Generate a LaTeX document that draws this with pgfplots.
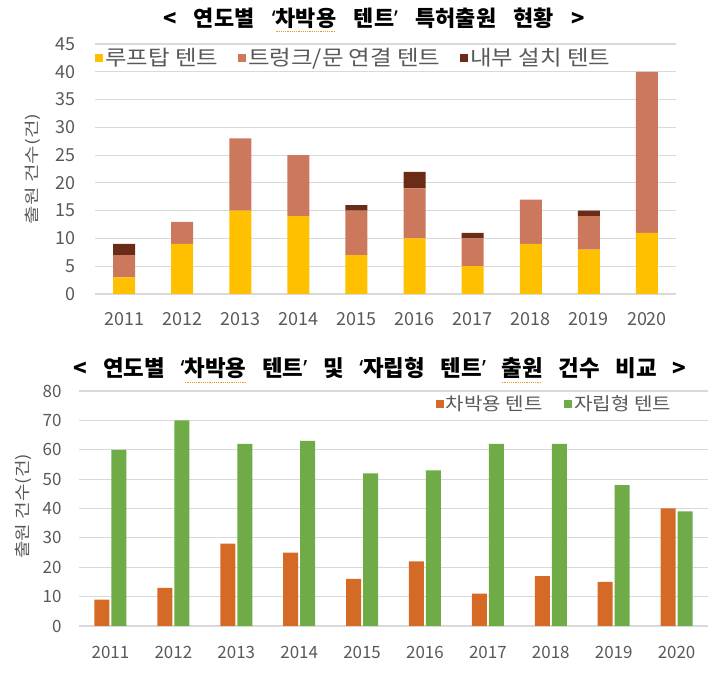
\documentclass[border=0pt]{standalone}
\usepackage{fontspec}
\setmainfont{Noto Sans CJK KR}
\newfontfamily\wideko[FakeStretch=1.12]{Noto Sans CJK KR}
\newfontfamily\qfont{Noto Sans}
\newcommand\oq{{\qfont ‘}}
\newcommand\cq{{\qfont ’}}
\usepackage{pgfplots}
\pgfplotsset{compat=1.18}
\definecolor{roof}{HTML}{FFC000}
\definecolor{trunk}{HTML}{CC785C}
\definecolor{inner}{HTML}{6A2C17}
\definecolor{carorg}{HTML}{D46A26}
\definecolor{freegreen}{HTML}{6FAB46}
\definecolor{gridgray}{HTML}{D9D9D9}
\definecolor{textgray}{HTML}{595959}
\definecolor{squig}{HTML}{E8992E}
\newcommand\squig[1]{\setbox0\hbox{#1}\rlap{\textcolor{squig}{\hbox to \wd0{\leaders\hbox to 2.2bp{\hss\rule[-6bp]{1.2bp}{1bp}\hss}\hfill}}}\box0\relax}
\pgfplotstableread{
x roof trunk inner
0 3 4 2
1 9 4 0
2 15 13 0
3 14 11 0
4 7 8 1
5 10 9 3
6 5 5 1
7 9 8 0
8 8 6 1
9 11 29 0
}\toptable
\pgfplotstableread{
x car free
0 9 60
1 13 70
2 28 62
3 25 63
4 16 52
5 22 53
6 11 62
7 17 62
8 15 48
9 40 39
}\bottable
\begin{document}
\begin{tikzpicture}
\useasboundingbox (0,0) rectangle (721bp,677bp);
\node[font=\fontsize{22}{26}\selectfont\bfseries] at (374bp,657bp) {\spaceskip=0.8em < 연도별 \oq\squig{차박용} 텐트\cq{} 특허출원 현황 >};
\node[font=\fontsize{22.5}{26}\selectfont\bfseries] at (380bp,307bp) {\spaceskip=0.7em < 연도별 \oq\squig{차박용} 텐트\cq{} 및 \oq 자립형 텐트\cq{} \squig{출원} 건수 비교 >};
\begin{axis}[
  at={(95bp,383bp)}, anchor=south west, scale only axis,
  width=581bp, height=250bp,
  xmin=-0.5, xmax=9.5, ymin=0, ymax=45,
  ybar stacked, bar width=22bp,
  xtick={0,...,9}, xticklabels={2011,2012,2013,2014,2015,2016,2017,2018,2019,2020},
  ytick={0,5,...,45},
  ymajorgrids, grid style={draw=gridgray, line width=1.2bp},
  axis line style={draw=none}, major tick length=0pt,
  /pgf/number format/assume math mode=true,
  tick label style={font=\fontsize{18}{20}\selectfont, text=textgray},
  xticklabel style={anchor=base, yshift=-32bp},
  yticklabel style={anchor=east, xshift=-16bp},
  ylabel={\scalebox{1.35}[1]{출원 건수(건)}},
  ylabel style={at={(axis description cs:-0.108,0.5)}, anchor=center, rotate=0, font=\fontsize{15}{18}\selectfont, text=textgray},
  legend style={at={(rel axis cs:-0.005,0.944)}, anchor=west, draw=none, fill=none,
     legend columns=3, font=\fontsize{21}{24}\selectfont\wideko, text=textgray,
     /tikz/every even column/.append style={column sep=18bp}},
  legend image code/.code={\fill[#1] (0bp,-4bp) rectangle (8bp,4bp);},
]
\addplot[fill=roof, draw=none] table[x=x, y=roof] {\toptable};
\addplot[fill=trunk, draw=none] table[x=x, y=trunk] {\toptable};
\addplot[fill=inner, draw=none] table[x=x, y=inner] {\toptable};
\legend{루프탑 텐트, 트렁크/문 연결 텐트, 내부 설치 텐트}
\end{axis}
\begin{axis}[
  at={(79bp,51bp)}, anchor=south west, scale only axis,
  width=629bp, height=235bp,
  xmin=-0.5, xmax=9.5, ymin=0, ymax=80,
  ybar=2bp, bar width=15bp,
  xtick={0,...,9}, xticklabels={2011,2012,2013,2014,2015,2016,2017,2018,2019,2020},
  ytick={0,10,...,80},
  ymajorgrids, grid style={draw=gridgray, line width=1.2bp},
  axis line style={draw=none}, major tick length=0pt,
  /pgf/number format/assume math mode=true,
  tick label style={font=\fontsize{17}{19}\selectfont, text=textgray},
  xticklabel style={anchor=base, yshift=-32.5bp},
  yticklabel style={anchor=east, xshift=-14bp},
  ylabel={\scalebox{1.2}[1]{출원 건수(건)}},
  ylabel style={at={(axis description cs:-0.089,0.51)}, anchor=center, rotate=0, font=\fontsize{16}{18}\selectfont, text=textgray},
  legend style={at={(rel axis cs:0.95,0.945)}, anchor=east, draw=none, fill=none,
     legend columns=2, font=\fontsize{18}{21}\selectfont\wideko, text=textgray,
     /tikz/every even column/.append style={column sep=20bp}},
  legend image code/.code={\fill[#1] (0bp,-4bp) rectangle (8bp,4bp);},
]
\addplot[fill=carorg, draw=none] table[x=x, y=car] {\bottable};
\addplot[fill=freegreen, draw=none] table[x=x, y=free] {\bottable};
\legend{차박용 텐트, 자립형 텐트}
\end{axis}
\end{tikzpicture}
\end{document}
